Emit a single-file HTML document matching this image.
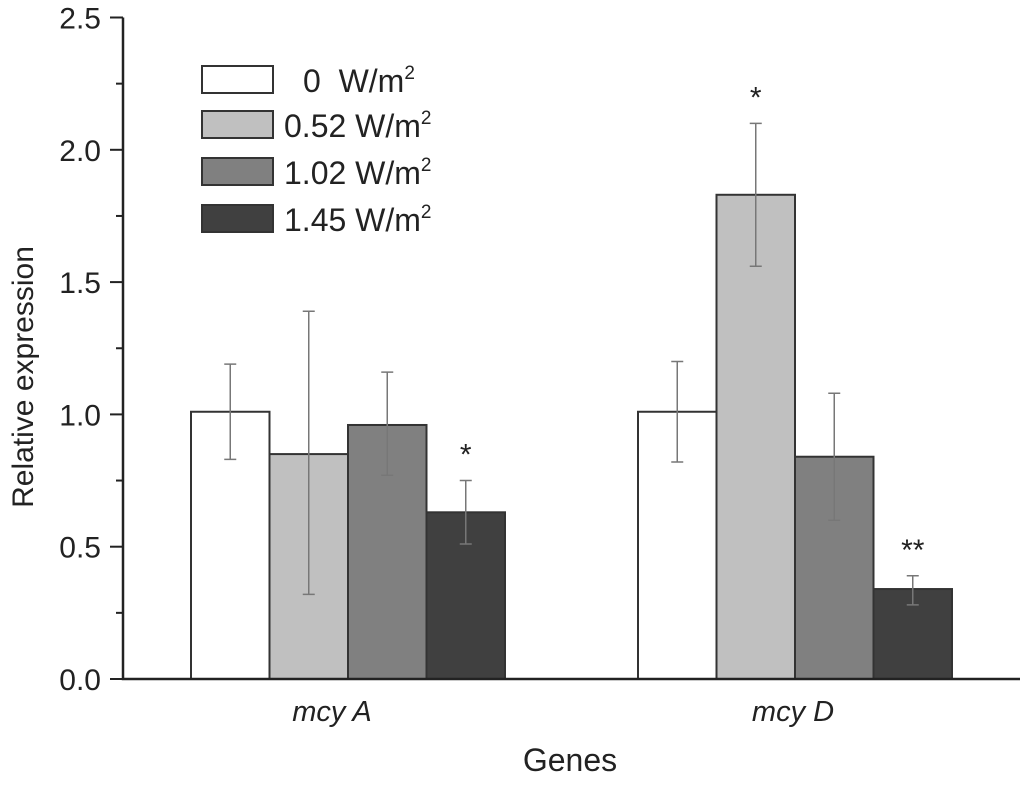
<!DOCTYPE html>
<html><head><meta charset="utf-8"><style>
body{margin:0;background:#fff}
svg text{font-family:"Liberation Sans",Arial,sans-serif;fill:#222}
</style></head><body>
<svg width="1024" height="780" xmlns="http://www.w3.org/2000/svg" id="c">
<g id="bars"></g>
<g id="axes"></g>
<g font-size="32">
<rect x="202" y="66" width="71" height="27" fill="#fff" stroke="#333" stroke-width="2"/>
<text x="303" y="92">0&#160;&#160;W/m<tspan dy="-13" font-size="19">2</tspan></text>
<rect x="202" y="111" width="71" height="27" fill="#c0c0c0" stroke="#333" stroke-width="2"/>
<text x="284" y="137">0.52 W/m<tspan dy="-13" font-size="19">2</tspan></text>
<rect x="202" y="158" width="71" height="27" fill="#808080" stroke="#333" stroke-width="2"/>
<text x="284" y="184">1.02 W/m<tspan dy="-13" font-size="19">2</tspan></text>
<rect x="202" y="205" width="71" height="27" fill="#404040" stroke="#333" stroke-width="2"/>
<text x="284" y="231">1.45 W/m<tspan dy="-13" font-size="19">2</tspan></text>
</g>
<text font-size="30" transform="translate(33,377) rotate(-90)" text-anchor="middle">Relative expression</text>
<text font-size="32" x="570" y="771" text-anchor="middle">Genes</text>
</svg>
<script>
const categories=["mcy A","mcy D"];
const seriesColors=["#ffffff","#c0c0c0","#808080","#404040"];
const values=[[1.01,0.85,0.96,0.63],[1.01,1.83,0.84,0.34]];
const errHigh=[[1.19,1.39,1.16,0.75],[1.20,2.10,1.08,0.39]];
const errLow=[[0.83,0.32,0.77,0.51],[0.82,1.56,0.60,0.28]];
const marks=[["","","","*"],["","*","","**"]];
const yTicks=[0,0.5,1.0,1.5,2.0,2.5];
const yTickLabels=["0.0","0.5","1.0","1.5","2.0","2.5"];
const NS="http://www.w3.org/2000/svg";
const y0=679,yScale=264.6;
function y(v){return y0-v*yScale;}
const groupStart=[191,638],bw=78.5,labelNudge=[-16,-2];
function xBar(g,s){return groupStart[g]+s*bw;}
function mk(t,a,p){const e=document.createElementNS(NS,t);for(const k in a)e.setAttribute(k,a[k]);p.appendChild(e);return e;}
const bars=document.getElementById('bars'),axes=document.getElementById('axes');
values.forEach((row,g)=>{row.forEach((v,s)=>{
 const x=xBar(g,s);
 const r=mk('rect',{x:x,y:y(v),width:bw,height:y0-y(v),fill:seriesColors[s],stroke:'#333','stroke-width':2},bars);
 
 
 const cx=x+bw/2;
 const eb=mk('path',{d:`M${cx},${y(errHigh[g][s])}V${y(errLow[g][s])}M${cx-6},${y(errHigh[g][s])}h12M${cx-6},${y(errLow[g][s])}h12`,stroke:'#777','stroke-width':1.5,fill:'none'},bars);
 
 
 if(marks[g][s]){const t=mk('text',{x:cx,y:y(errHigh[g][s])-16,'text-anchor':'middle','font-size':30},bars);t.textContent=marks[g][s];
 
 }
});
 const lx=groupStart[g]+2*bw+labelNudge[g];
 const lt=mk('text',{x:lx,y:721,'text-anchor':'middle','font-size':29,'font-style':'italic'},axes);lt.textContent=categories[g];
 
 
});
const ax=mk('path',{d:`M123,${y(2.5)}V${y0}H1020`,stroke:'#222','stroke-width':2.5,fill:'none'},axes);


yTicks.forEach((v,i)=>{
 const t=mk('line',{x1:110,x2:123,y1:y(v),y2:y(v),stroke:'#222','stroke-width':2},axes);
 
 
 if(i<yTicks.length-1){const m=mk('line',{x1:116,x2:123,y1:y(v+0.25),y2:y(v+0.25),stroke:'#222','stroke-width':2},axes);
 
 }
 const l=mk('text',{x:101,y:y(v)+11,'text-anchor':'end','font-size':30},axes);l.textContent=yTickLabels[i];
 
 
});
</script>
</body></html>
